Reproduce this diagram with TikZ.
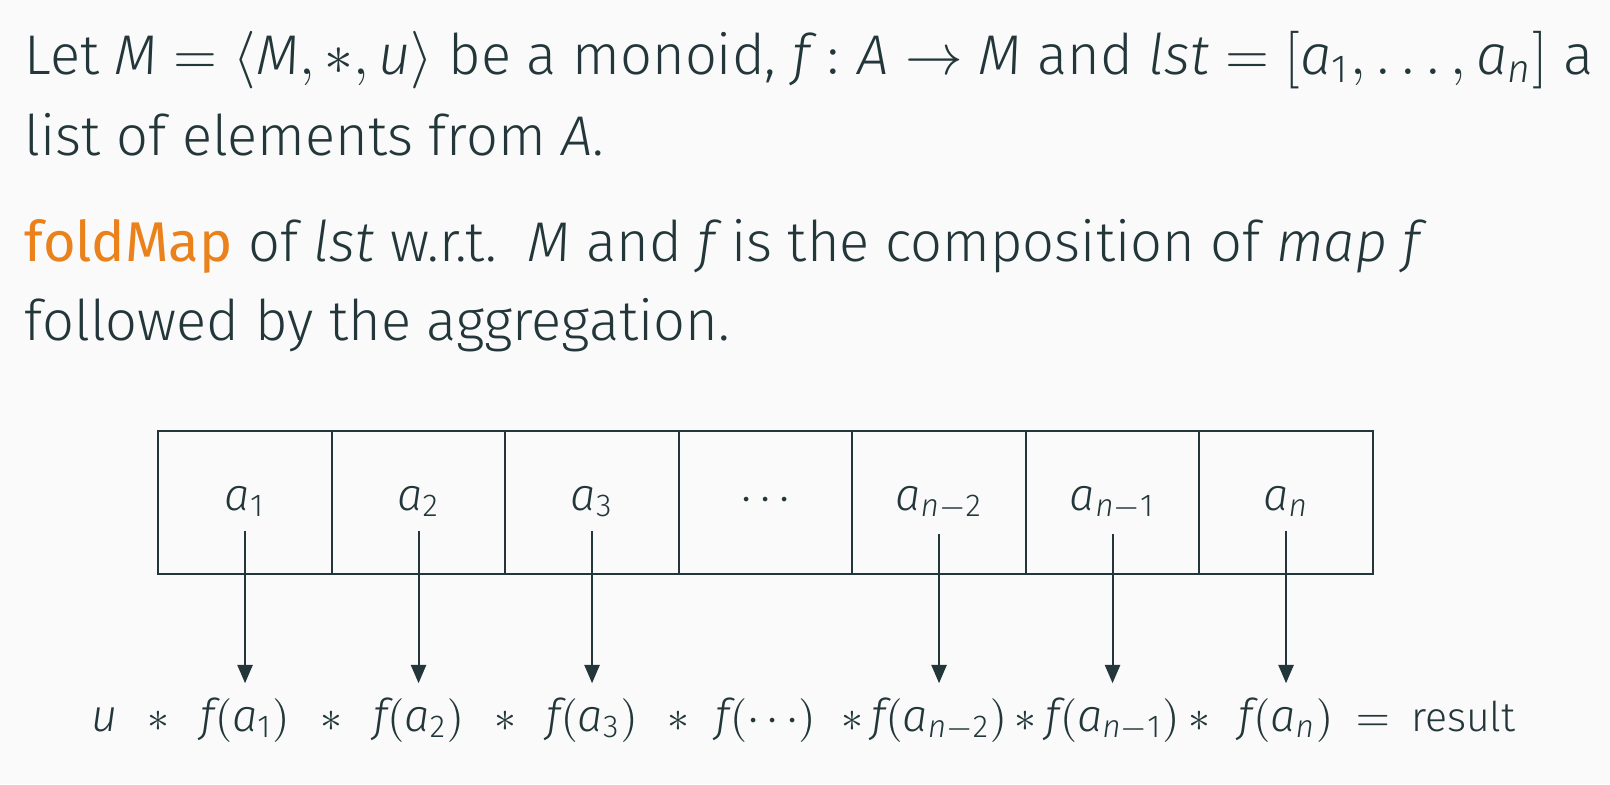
\documentclass[tikz,border=0pt]{standalone}
\IfFileExists{mathspec.sty}{\usepackage{mathspec}}{\usepackage{fontspec}}
\usetikzlibrary{arrows.meta}
\IfFontExistsTF{Fira Sans Light}{%
  \def\mainfam{Fira Sans Light}%
  \setmainfont{Fira Sans Light}[BoldFont={Fira Sans}]}{%
  \def\mainfam{Fira Sans}%
  \setmainfont{Fira Sans}}
\makeatletter
\@ifpackageloaded{mathspec}{\setmathsfont(Digits,Latin){\mainfam}}{}
\makeatother
\definecolor{mDarkTeal}{HTML}{23373B}
\definecolor{mLightBrown}{HTML}{EB811B}
\definecolor{mBg}{HTML}{FAFAFA}
\begin{document}
\begin{tikzpicture}[x=0.25pt,y=-0.25pt,color=mDarkTeal,
                        >={Triangle[length=4.6pt,width=3.8pt]},
                        line/.style={anchor=base west, inner sep=0pt,
                        font=\fontsize{14}{17}\selectfont},
                        cell/.style={draw, line width=0.5pt,
                        minimum width=43.375pt, minimum height=35.9pt,
                        inner sep=0pt, outer sep=0pt},
                        elem/.style={anchor=base,
                        font=\fontsize{11.3}{13}\selectfont}]
                        \fill [mBg] (0,0) rectangle (1610,784);
                        \useasboundingbox (0,0) rectangle (1610,784);
                        % text of the slide
                        \node [line] (t1) at (24,74) {Let $M = \langle M, *, u\rangle$ be a monoid, $f : A \to M$ and $lst = [a_1, \ldots, a_n]$ a};
                        \node [line] (t2) at (24,155) {list of elements from $A$.};
                        \node [line] (t3) at (24,261) {\textbf{\color{mLightBrown}foldMap} of $lst$ w.r.t.\ \ $M$ and $f$ is the composition of $map\ f$};
                        \node [line] (t4) at (24,340) {followed by the aggregation.};
                        % the list
                        \foreach \i/\lab in {1/a_1,2/a_2,3/a_3,4/\cdots,5/a_{n-2},6/a_{n-1},7/a_n}{
                        \node [cell] (c\i) at ({158.3+(\i-0.5)*173.5},502.5) {};
                        \node [elem] (l\i) at ({158.3+(\i-0.5)*173.5},510) {$\lab$};
                        \node [elem] (s\i) at ({158.3+(\i-1)*173.5},731) {$*$};
                        \node [elem] (f\i) at ({158.3+(\i-0.5)*173.5},731) {$f(\lab)$};
                        }
                        \node [elem] (u) at (105,731) {$u$};
                        \node [elem] (eq) at (1373,731) {$=$};
                        \node [elem, anchor=base west, font=\fontsize{10.25}{12}\selectfont] (res) at (1397,731) {result};
                        \foreach \i in {1,2,3,5,6,7}
                        \draw [->, line width=0.5pt] (l\i) -- (f\i);
                \end{tikzpicture}
\end{document}
